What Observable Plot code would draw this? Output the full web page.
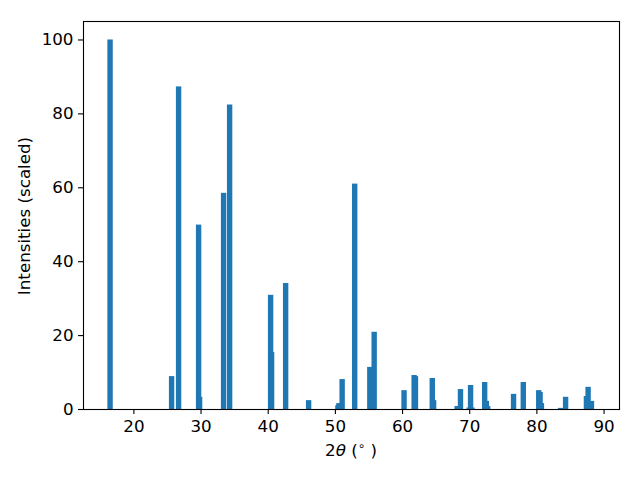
<!DOCTYPE html>
<html>
<head>
<meta charset="utf-8">
<script src="https://cdn.jsdelivr.net/npm/d3@7"></script>
<script src="https://cdn.jsdelivr.net/npm/@observablehq/plot@0.6"></script>
<style>
  html, body { margin: 0; padding: 0; background: #fff; }
  #chart svg { display: block; }
</style>
</head>
<body>
<div id="chart"></div>
<script>
const twoTheta = [16.53, 25.69, 26.73, 29.71, 29.86, 33.43, 34.33, 40.43, 40.58, 42.67,
  46.09, 50.45, 50.6, 51.08, 52.95, 55.2, 55.85, 60.3, 61.8, 62.0,
  64.5, 64.7, 68.2, 68.7, 70.0, 70.2, 70.4, 72.3, 72.55, 72.75,
  76.6, 78.05, 80.35, 80.55, 80.75, 83.6, 84.35, 87.45, 87.7, 88.2];
const intensity = [100, 8.9, 87.3, 49.9, 3.3, 58.5, 82.4, 30.9, 15.4, 34.1,
  2.4, 1.0, 1.6, 8.1, 61.0, 11.4, 20.9, 5.1, 9.2, 8.9,
  8.4, 2.4, 0.8, 5.4, 0.4, 6.5, 0.4, 7.3, 2.2, 0.8,
  4.1, 7.3, 5.1, 4.6, 1.6, 0.3, 3.3, 3.5, 6.0, 2.2];
const xTicks = [20, 30, 40, 50, 60, 70, 80, 90];
const yTicks = [0, 20, 40, 60, 80, 100];
const barWidth = 0.8;

const data = twoTheta.map((t, i) => ({x1: t - barWidth / 2, x2: t + barWidth / 2, y: intensity[i]}));

const font = "DejaVu Sans, sans-serif";
const fs = "16.7px";
const plot = Plot.plot({
  width: 640,
  height: 480,
  marginLeft: 83,
  marginRight: 21,
  marginTop: 21,
  marginBottom: 71,
  style: {fontFamily: font, fontSize: fs, color: "#000", background: "#fff"},
  x: {domain: [12.5, 92.3]},
  y: {domain: [0, 105]},
  marks: [
    Plot.rectY(data, {x1: "x1", x2: "x2", y: "y", fill: "#1f77b4"}),
    Plot.frame({stroke: "#000", strokeWidth: 1.1}),
    Plot.axisX({ticks: xTicks, tickSize: 5, tickPadding: 6, label: null, strokeWidth: 1.1, fontSize: fs}),
    Plot.axisY({ticks: yTicks, tickSize: 5, tickPadding: 5, label: null, strokeWidth: 1.1, fontSize: fs})
  ]
});
document.getElementById("chart").appendChild(plot);

const svg = d3.select(plot);
// x label: 2θ (°)
const xl = svg.append("text")
  .attr("x", 351).attr("y", 456)
  .attr("text-anchor", "middle")
  .attr("font-family", font).attr("font-size", fs).attr("fill", "#000");
xl.append("tspan").text("2");
xl.append("tspan").attr("font-style", "italic").text("θ");
xl.append("tspan").text(" (");
xl.append("tspan").attr("font-size", "11.7px").attr("dy", "-6").text("∘");
xl.append("tspan").attr("dy", "6").text(" )");
// y label
svg.append("text")
  .attr("transform", "translate(30,216) rotate(-90)")
  .attr("text-anchor", "middle")
  .attr("font-family", font).attr("font-size", fs).attr("fill", "#000")
  .text("Intensities (scaled)");
</script>
</body>
</html>
